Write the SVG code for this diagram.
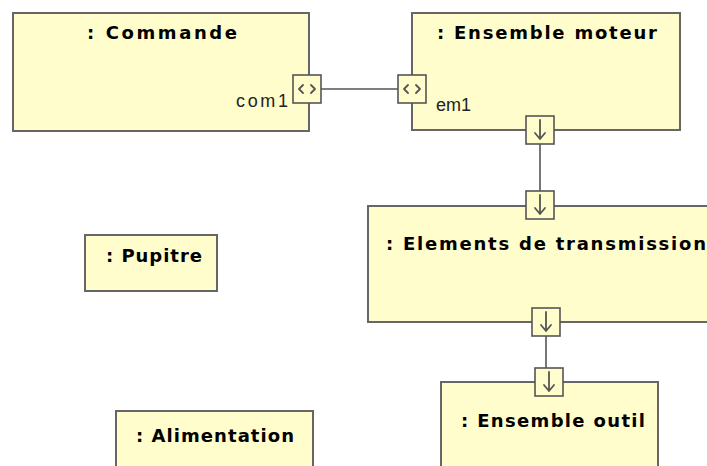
<svg xmlns="http://www.w3.org/2000/svg" width="707" height="466" viewBox="0 0 707 466">
<style>
.box{fill:#FFFDCC;stroke:#666;stroke-width:2}
.port{fill:#FFFDCC;stroke:#555;stroke-width:1.6}
.sym{fill:none;stroke:#555;stroke-width:1.8;stroke-linecap:round;stroke-linejoin:round}
.conn{fill:none;stroke:#555;stroke-width:1.6}
.title{font-family:"DejaVu Sans","Liberation Sans",sans-serif;font-weight:bold;font-size:18px;fill:#000}
.lbl{font-family:"Liberation Sans","DejaVu Sans",sans-serif;font-size:18px;fill:#222}
</style>
<rect width="707" height="466" fill="#fff"/>
<g id="commande">
<rect class="box" x="13" y="13" width="296" height="118"/>
<text class="title" x="87" y="39" textLength="150">: Commande</text>
<text class="lbl" x="236" y="107" textLength="52">com1</text>
</g>
<g id="ensemble-moteur">
<rect class="box" x="412" y="13" width="268" height="117"/>
<text class="title" x="437" y="39" textLength="220">: Ensemble moteur</text>
<text class="lbl" x="436" y="111">em1</text>
</g>
<g id="elements-transmission">
<rect class="box" x="368" y="206" width="345" height="116"/>
<text class="title" x="386" y="250" textLength="320">: Elements de transmission</text>
</g>
<g id="ensemble-outil">
<rect class="box" x="441" y="382" width="217" height="90"/>
<text class="title" x="461" y="427" textLength="184">: Ensemble outil</text>
</g>
<g id="pupitre">
<rect class="box" x="85" y="235" width="132" height="56"/>
<text class="title" x="106" y="262" textLength="96">: Pupitre</text>
</g>
<g id="alimentation">
<rect class="box" x="116" y="411" width="197" height="60"/>
<text class="title" x="136" y="442" textLength="158">: Alimentation</text>
</g>
<g id="connectors">
<line class="conn" x1="321" y1="89" x2="398" y2="89"/>
<line class="conn" x1="540" y1="144" x2="540" y2="191"/>
<line class="conn" x1="546" y1="336" x2="546" y2="368"/>
</g>
<g id="ports">
<g id="port-com1">
<rect class="port" x="293" y="75" width="28" height="28"/>
<path class="sym" d="M303,85 L299,89 L303,93 M311,85 L315,89 L311,93"/>
</g>
<g id="port-em1">
<rect class="port" x="398" y="75" width="28" height="28"/>
<path class="sym" d="M408,85 L404,89 L408,93 M416,85 L420,89 L416,93"/>
</g>
<g id="port-moteur-out">
<rect class="port" x="526" y="116" width="28" height="28"/>
<path class="sym" d="M540,120 L540,139 M535,133 L540,139 L545,133"/>
</g>
<g id="port-trans-in">
<rect class="port" x="526" y="191" width="28" height="28"/>
<path class="sym" d="M540,195 L540,214 M535,208 L540,214 L545,208"/>
</g>
<g id="port-trans-out">
<rect class="port" x="532" y="308" width="28" height="28"/>
<path class="sym" d="M546,312 L546,331 M541,325 L546,331 L551,325"/>
</g>
<g id="port-outil-in">
<rect class="port" x="535" y="368" width="28" height="28"/>
<path class="sym" d="M549,372 L549,391 M544,385 L549,391 L554,385"/>
</g>
</g>
</svg>
